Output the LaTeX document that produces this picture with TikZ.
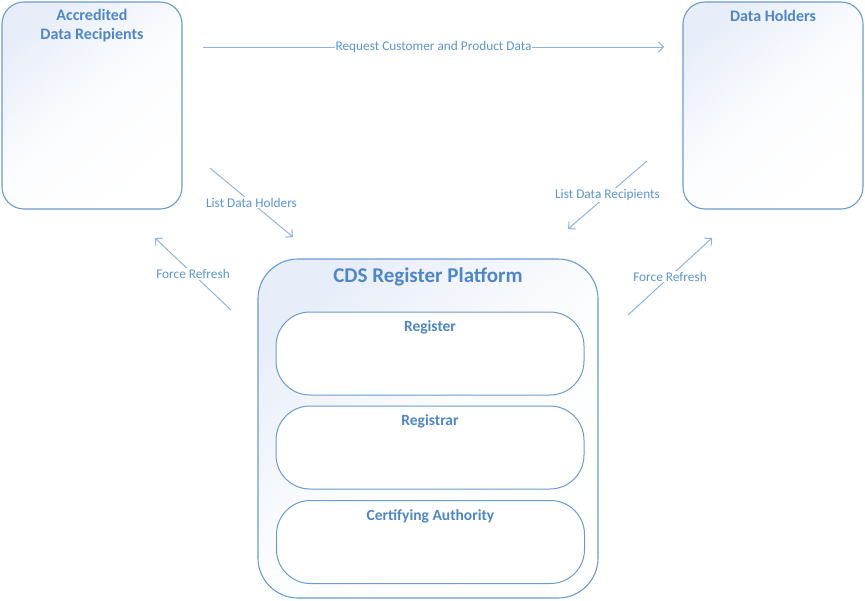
\documentclass[tikz,border=0pt]{standalone}
\usepackage{fontspec}
\setmainfont{Carlito}
\usepackage{tikz}
\usetikzlibrary{arrows.meta}
\definecolor{boxline}{RGB}{106,155,209}
\definecolor{boxfill}{RGB}{232,238,249}
\definecolor{titleblue}{RGB}{79,134,199}
\definecolor{labelblue}{RGB}{91,150,210}
\definecolor{linkblue}{RGB}{141,180,226}
\tikzstyle{box} = [draw=boxline,line width=1.1pt,top color=boxfill,bottom color=white,middle color=white!85!boxfill,shading angle=40]
\tikzstyle{inbox} = [draw=boxline,line width=1pt,fill=white,rounded corners=34pt,minimum width=308pt,minimum height=83pt]
\tikzstyle{title} = [text=titleblue,font=\bfseries,align=center,inner sep=0]
\tikzstyle{link} = [draw=linkblue,line width=1pt]
\tikzstyle{lbl} = [text=labelblue,fill=white,inner sep=1pt,font=\fontsize{13.3}{15}\selectfont]

\begin{document}
\begin{tikzpicture}[x=1pt,y=-1pt,post/.style={link,-{Straight Barb[length=5pt,width=10pt]}}]
    \useasboundingbox (0,0) rectangle (865,600);

    \node[box,rounded corners=22pt,minimum width=180,minimum height=207] (adr) at (92,105.5) {};
    \node[box,rounded corners=22pt,minimum width=180,minimum height=207] (dh) at (773,105.5) {};
    \node[box,rounded corners=40pt,minimum width=340,minimum height=339] (cds) at (428,428.5) {};
    \node[inbox] (reg) at (430,353.5) {};
    \node[inbox] (regr) at (430,447.5) {};
    \node[inbox] (ca) at (430.5,542) {};

    \node[title,font=\bfseries\fontsize{16}{19}\selectfont] at (92,26) {Accredited\\Data Recipients};
    \node[title,font=\bfseries\fontsize{16}{19}\selectfont] at (773,16) {Data Holders};
    \node[title,font=\bfseries\fontsize{21}{24}\selectfont] at (428,277) {CDS Register Platform};
    \node[title,font=\bfseries\fontsize{15.5}{18}\selectfont] at (reg.north |- 0,327) {Register};
    \node[title,font=\bfseries\fontsize{15.5}{18}\selectfont] at (regr.north |- 0,421) {Registrar};
    \node[title,font=\bfseries\fontsize{15.5}{18}\selectfont] at (ca.north |- 0,516) {Certifying Authority};

    \coordinate (rq1) at (203,47);
    \coordinate (rq2) at (664,47);
    \coordinate (ldh1) at (210,168);
    \coordinate (ldh2) at (293,237);
    \coordinate (frl1) at (231,310);
    \coordinate (frl2) at (155,238);
    \coordinate (ldr1) at (647,161);
    \coordinate (ldr2) at (568,229);
    \coordinate (frr1) at (628,315);
    \coordinate (frr2) at (712,238);

    \draw[post] (rq1) -- node[lbl] {Request Customer and Product Data} (rq2);
    \draw[post] (ldh1) -- node[lbl] {List Data Holders} (ldh2);
    \draw[post] (frl1) -- node[lbl] {Force Refresh} (frl2);
    \draw[post] (ldr1) -- node[lbl] {List Data Recipients} (ldr2);
    \draw[post] (frr1) -- node[lbl] {Force Refresh} (frr2);

\end{tikzpicture}
\end{document}
